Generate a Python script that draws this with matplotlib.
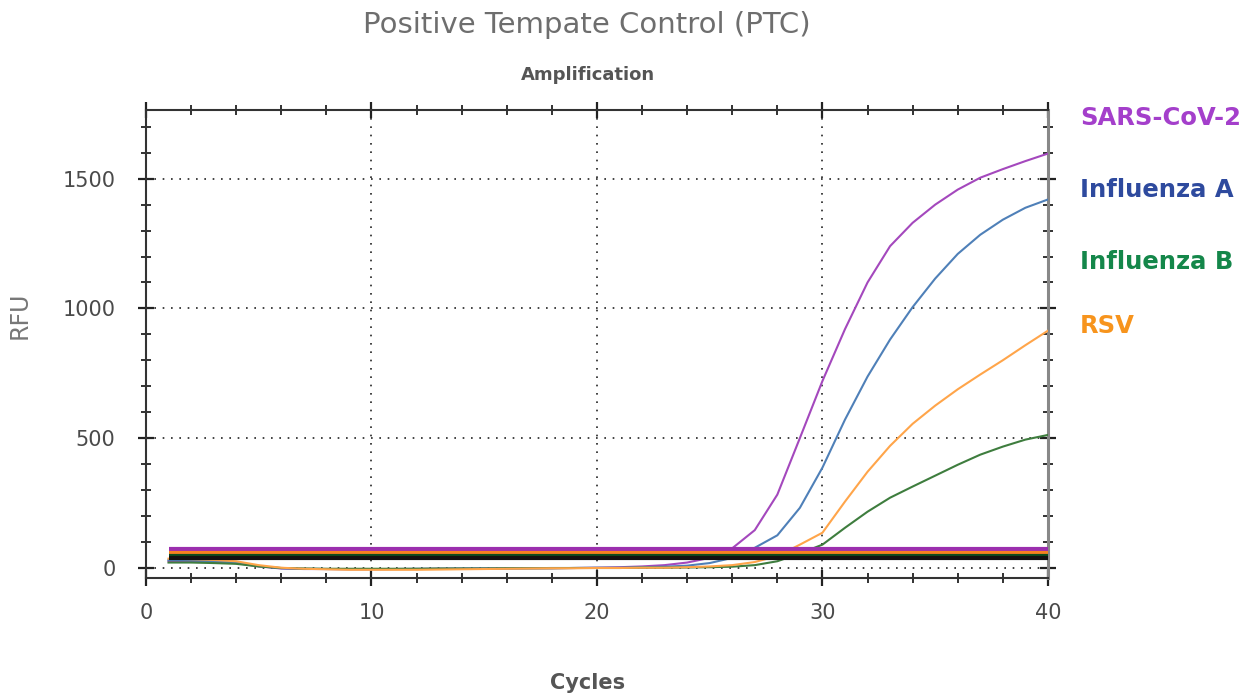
import matplotlib
matplotlib.use("Agg")
import matplotlib.pyplot as plt
from matplotlib.ticker import MultipleLocator

# ---- data ----
cycles = list(range(1, 41))

sars_cov2 = [25, 24, 22, 18, 5, -3, -5, -5, -6, -6, -5, -5, -4, -4, -3, -3, -2, -2, -1, 0,
             2, 5, 10, 20, 38, 75, 145, 282, 500, 720, 920, 1100, 1240, 1330, 1400, 1458,
             1504, 1537, 1568, 1597]
influenza_a = [30, 28, 25, 20, 6, -2, -4, -5, -5, -5, -5, -4, -4, -3, -3, -2, -2, -1, -1, 0,
               0, 2, 4, 8, 18, 38, 77, 125, 231, 386, 571, 737, 880, 1005, 1115, 1210,
               1284, 1342, 1388, 1420]
influenza_b = [20, 20, 18, 15, 5, -1, -3, -4, -4, -4, -4, -4, -3, -3, -3, -2, -2, -2, -1, -1,
               -1, 0, 0, 1, 2, 4, 10, 25, 55, 89, 154, 216, 270, 313, 355, 397, 436, 467,
               494, 512]
rsv = [35, 33, 30, 25, 10, 0, -4, -6, -8, -8, -8, -8, -7, -6, -5, -4, -3, -2, -2, -1,
       -1, 0, 0, 2, 5, 10, 22, 45, 89, 135, 255, 370, 470, 555, 625, 688, 745, 800,
       858, 914]

thresholds = [73, 58, 44, 38]

series_names = ["SARS-CoV-2", "Influenza A", "Influenza B", "RSV"]
series_vals = [sars_cov2, influenza_a, influenza_b, rsv]
line_cols = ["#a448bd", "#4f80b8", "#3e7d3e", "#ffa54a"]
label_cols = ["#a43fcb", "#2e4a9e", "#14874a", "#f7941d"]
thr_cols = ["#9b2fae", "#f58220", "#0b4d1e", "#111111"]

plt.rcParams["font.family"] = ["DejaVu Sans"]

fig = plt.figure(figsize=(12.55, 6.94), dpi=100)
ax = fig.add_axes([0.1163, 0.167, 0.7187, 0.6745])

for vals, col in zip(series_vals, line_cols):
    ax.plot(cycles, vals, color=col, linewidth=1.5, zorder=3)

for thr, col in zip(thresholds, thr_cols):
    ax.hlines(thr, cycles[0], 40, color=col, linewidth=3, zorder=4)

ax.set_xlim(0, 40)
ax.set_ylim(-40, 1765)

ax.xaxis.set_major_locator(MultipleLocator(10))
ax.xaxis.set_minor_locator(MultipleLocator(2))
ax.yaxis.set_major_locator(MultipleLocator(500))
ax.yaxis.set_minor_locator(MultipleLocator(100))

ax.grid(True, which="major", color="#222222", linestyle=(0, (1, 4)), linewidth=1.2)
ax.tick_params(which="both", direction="inout", top=True, right=True, colors="#222222",
               labelcolor="#4a4a4a", labelsize=15)
ax.tick_params(which="major", length=12, width=1.6)
ax.tick_params(which="minor", length=7, width=1.3)
ax.tick_params(axis="x", pad=12)
ax.tick_params(axis="y", pad=16)

for sp in ax.spines.values():
    sp.set_color("#333333")
    sp.set_linewidth(1.5)
ax.spines["right"].set_color("#888888")
ax.spines["right"].set_linewidth(2.2)

label_y = [118, 190, 262, 326]
for name, col, py in zip(series_names, label_cols, label_y):
    fig.text(1080 / 1255, 1 - py / 694, name, color=col, fontsize=17.5,
             fontweight="bold", ha="left", va="center")

fig.text(587 / 1255, 1 - 25 / 694, "Positive Tempate Control (PTC)", color="#6e6e6e",
         fontsize=21, ha="center", va="center")
fig.text(588 / 1255, 1 - 75 / 694, "Amplification", color="#555555",
         fontsize=13, fontweight="bold", ha="center", va="center")
fig.text(588 / 1255, 1 - 683 / 694, "Cycles", color="#555555",
         fontsize=15, fontweight="bold", ha="center", va="center")
fig.text(20 / 1255, 1 - 315 / 694, "RFU", color="#777777", fontsize=17,
         rotation=90, ha="center", va="center")

fig.savefig("out.png", dpi=100)
